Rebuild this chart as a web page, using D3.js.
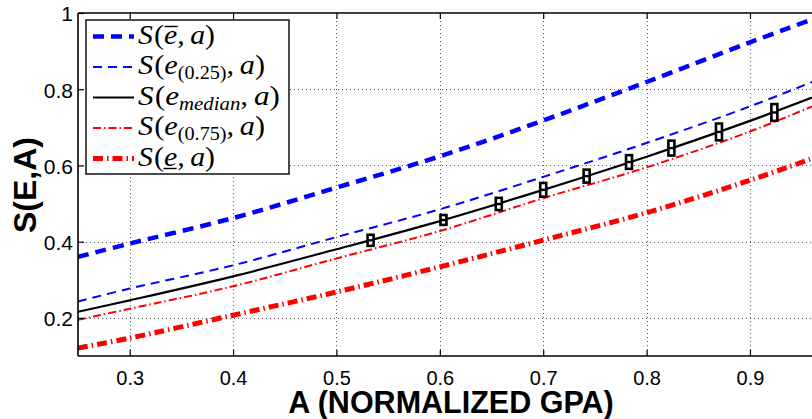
<!DOCTYPE html>
<html>
<head>
<meta charset="utf-8">
<script src="https://cdn.jsdelivr.net/npm/d3@7"></script>
<style>
  html, body { margin: 0; padding: 0; background: #fff; }
  svg { display: block; }
</style>
</head>
<body>
<svg id="chart" width="812" height="419"></svg>
<script>
// Normalized GPA sample points for every curve
const gpa = [0.25, 0.3, 0.4, 0.5, 0.6, 0.7, 0.8, 0.9, 0.96];

// S(e, a) for the five effort levels
const sUpper  = [0.360, 0.395, 0.462, 0.542, 0.624, 0.718, 0.819, 0.923, 0.983];
const sQ25    = [0.243, 0.277, 0.338, 0.412, 0.485, 0.570, 0.659, 0.755, 0.819];
const sMedian = [0.216, 0.246, 0.309, 0.380, 0.454, 0.536, 0.623, 0.717, 0.778];
const sQ75    = [0.195, 0.224, 0.283, 0.356, 0.428, 0.514, 0.595, 0.689, 0.755];
const sLower  = [0.121, 0.147, 0.207, 0.268, 0.334, 0.404, 0.476, 0.561, 0.618];

// Observed spread around the median curve
const boxGpa  = [0.533, 0.6035, 0.657, 0.700, 0.742, 0.783, 0.824, 0.870, 0.9236];
const boxLow  = [0.389, 0.444, 0.483, 0.518, 0.555, 0.591, 0.626, 0.666, 0.717];
const boxMid  = [0.4035, 0.4567, 0.4987, 0.536, 0.572, 0.609, 0.6456, 0.688, 0.739];
const boxHigh = [0.418, 0.470, 0.515, 0.554, 0.589, 0.627, 0.665, 0.710, 0.761];

// Axis ticks and titles
const xTicks = [0.3, 0.4, 0.5, 0.6, 0.7, 0.8, 0.9];
const yTicks = [0.2, 0.4, 0.6, 0.8, 1];
const yTickLabels = ["0.2", "0.4", "0.6", "0.8", "1"];
const xTitle = "A (NORMALIZED GPA)";
const yTitle = "S(E,A)";

// Series: legend math pieces (base "e" + decoration / subscript)
const seriesKeys = ["upper", "q25", "median", "q75", "lower"];
const seriesValues = [sUpper, sQ25, sMedian, sQ75, sLower];
const seriesSub = [null, "(0.25)", "median", "(0.75)", null];
const seriesMark = ["over", null, null, null, "under"];

const style = {
  upper:  {color: "#0000ff", width: 4.5, dash: "11,7"},
  q25:    {color: "#0000ff", width: 2,   dash: "9,6"},
  median: {color: "#000000", width: 2.2, dash: null},
  q75:    {color: "#ff0000", width: 2,   dash: "8,3,1.5,3"},
  lower:  {color: "#ff0000", width: 5,   dash: "10,4,1.5,4"}
};

const svg = d3.select("#chart");
const plotLeft = 78, plotRight = 812, plotTop = 13, plotBottom = 356;

const x = d3.scaleLinear().domain([0.25, 0.96]).range([plotLeft, plotRight]);
const y = d3.scaleLinear().domain([0.1, 1]).range([plotBottom, plotTop]);

// Clip for the plotting region
svg.append("defs").append("clipPath").attr("id", "plotClip")
  .append("rect").attr("x", plotLeft).attr("y", plotTop)
  .attr("width", plotRight - plotLeft).attr("height", plotBottom - plotTop);

// Dotted grid
const grid = svg.append("g").attr("stroke", "#555").attr("stroke-width", 1)
  .attr("stroke-dasharray", "1,3");
grid.selectAll("line.gx").data(xTicks).join("line").attr("class", "gx")
  .attr("x1", d => Math.round(x(d)) + 0.5).attr("x2", d => Math.round(x(d)) + 0.5)
  .attr("y1", plotTop).attr("y2", plotBottom);
grid.selectAll("line.gy").data(yTicks.filter(v => v < 1)).join("line").attr("class", "gy")
  .attr("y1", d => Math.round(y(d)) + 0.5).attr("y2", d => Math.round(y(d)) + 0.5)
  .attr("x1", plotLeft).attr("x2", plotRight);

// Curves
const line = d3.line().x((d, i) => x(gpa[i])).y(d => y(d)).curve(d3.curveCatmullRom);
const curves = svg.append("g").attr("clip-path", "url(#plotClip)");
seriesKeys.forEach((k, i) => {
  const s = style[k];
  curves.append("path").datum(seriesValues[i])
    .attr("d", line).attr("fill", "none")
    .attr("stroke", s.color).attr("stroke-width", s.width)
    .attr("stroke-dasharray", s.dash);
});

// Spread markers on the median curve
const boxes = svg.append("g").attr("clip-path", "url(#plotClip)");
boxGpa.forEach((g, i) => {
  const cx = x(g);
  boxes.append("rect")
    .attr("x", cx - 3).attr("width", 6)
    .attr("y", y(boxHigh[i])).attr("height", y(boxLow[i]) - y(boxHigh[i]))
    .attr("fill", "#fff").attr("stroke", "#000").attr("stroke-width", 2.6);
  boxes.append("line")
    .attr("x1", cx - 3).attr("x2", cx + 3)
    .attr("y1", y(boxMid[i])).attr("y2", y(boxMid[i]))
    .attr("stroke", "#000").attr("stroke-width", 2.4);
});

// Axes (ticks point inward)
const tickFont = "'Liberation Sans', Arial, sans-serif";
const xAxis = svg.append("g").attr("transform", `translate(0,${plotBottom})`)
  .call(d3.axisBottom(x).tickValues(xTicks).tickSize(-6).tickSizeOuter(0)
    .tickPadding(15).tickFormat(d3.format(".1f")));
const yAxis = svg.append("g").attr("transform", `translate(${plotLeft},0)`)
  .call(d3.axisLeft(y).tickValues(yTicks).tickSize(-6).tickSizeOuter(0)
    .tickPadding(5).tickFormat((d, i) => yTickLabels[i]));
const xTop = svg.append("g").attr("transform", `translate(0,${plotTop})`)
  .call(d3.axisTop(x).tickValues(xTicks).tickSize(-6).tickSizeOuter(0).tickFormat(""));
[xAxis, yAxis, xTop].forEach(a => {
  a.select(".domain").attr("stroke", "#000").attr("stroke-width", 1.6);
  a.selectAll(".tick line").attr("stroke", "#000").attr("stroke-width", 1.2);
  a.selectAll(".tick text").attr("fill", "#000")
    .style("font-family", tickFont).style("font-size", "21px");
});
yAxis.selectAll(".tick text").attr("dy", "0.38em");
xAxis.selectAll(".tick text").style("font-size", "20px");
// domain lines span only the plot region
xTop.select(".domain").attr("d", `M${plotLeft},0H${plotRight}`);
xAxis.select(".domain").attr("d", `M${plotLeft},0H${plotRight}`);
yAxis.select(".domain").attr("d", `M0,${plotTop}V${plotBottom}`);

// Axis titles
svg.append("text").text(xTitle)
  .attr("x", 451).attr("y", 413).attr("text-anchor", "middle")
  .style("font-family", tickFont).style("font-weight", "bold").style("font-size", "30.5px");
svg.append("text").text(yTitle)
  .attr("transform", "translate(36,185) rotate(-90)").attr("text-anchor", "middle")
  .style("font-family", tickFont).style("font-weight", "bold").style("font-size", "32px");

// Legend
const legX = 86, legY = 20, legW = 203, legH = 154;
const legend = svg.append("g");
legend.append("rect").attr("x", legX).attr("y", legY).attr("width", legW).attr("height", legH)
  .attr("fill", "#fff").attr("stroke", "#000").attr("stroke-width", 1.4);

const rowBase = [43.5, 74, 104.5, 135, 165.5];
const rowWidth = [77, 127, 142, 127, 77];
const mathFont = "'Liberation Serif', 'Times New Roman', serif";
const mainSize = 27, subSize = 18;

seriesKeys.forEach((k, i) => {
  const s = style[k];
  const base = rowBase[i];
  legend.append("line").attr("x1", 93).attr("x2", 134)
    .attr("y1", base - 7).attr("y2", base - 7)
    .attr("stroke", s.color).attr("stroke-width", s.width)
    .attr("stroke-dasharray", s.dash);

  const g = legend.append("g");
  let cx = 0;
  const put = (str, italic, size, dy) => {
    const t = g.append("text").text(str).attr("x", cx).attr("y", dy || 0)
      .style("font-family", mathFont).style("font-size", size + "px")
      .style("font-style", italic ? "italic" : "normal");
    const w = t.node().getComputedTextLength();
    const x0 = cx;
    cx += w;
    return [x0, w];
  };
  put("S", true, mainSize);
  cx += 1;
  put("(", false, mainSize);
  const [ex, ew] = put("e", true, mainSize);
  if (seriesSub[i]) {
    const sub = seriesSub[i];
    put(sub, sub === "median", subSize, 5);
  }
  put(",", false, mainSize);
  cx += 5;
  put("a", true, mainSize);
  put(")", false, mainSize);
  if (seriesMark[i] === "over") {
    g.append("line").attr("x1", ex + 0.5).attr("x2", ex + ew + 0.5)
      .attr("y1", -17).attr("y2", -17).attr("stroke", "#000").attr("stroke-width", 1.4);
  } else if (seriesMark[i] === "under") {
    g.append("line").attr("x1", ex - 0.5).attr("x2", ex + ew - 0.5)
      .attr("y1", 3).attr("y2", 3).attr("stroke", "#000").attr("stroke-width", 1.4);
  }
  const sx = rowWidth[i] / cx;
  g.attr("transform", `translate(138,${base}) scale(${sx},1)`);
});
</script>
</body>
</html>
